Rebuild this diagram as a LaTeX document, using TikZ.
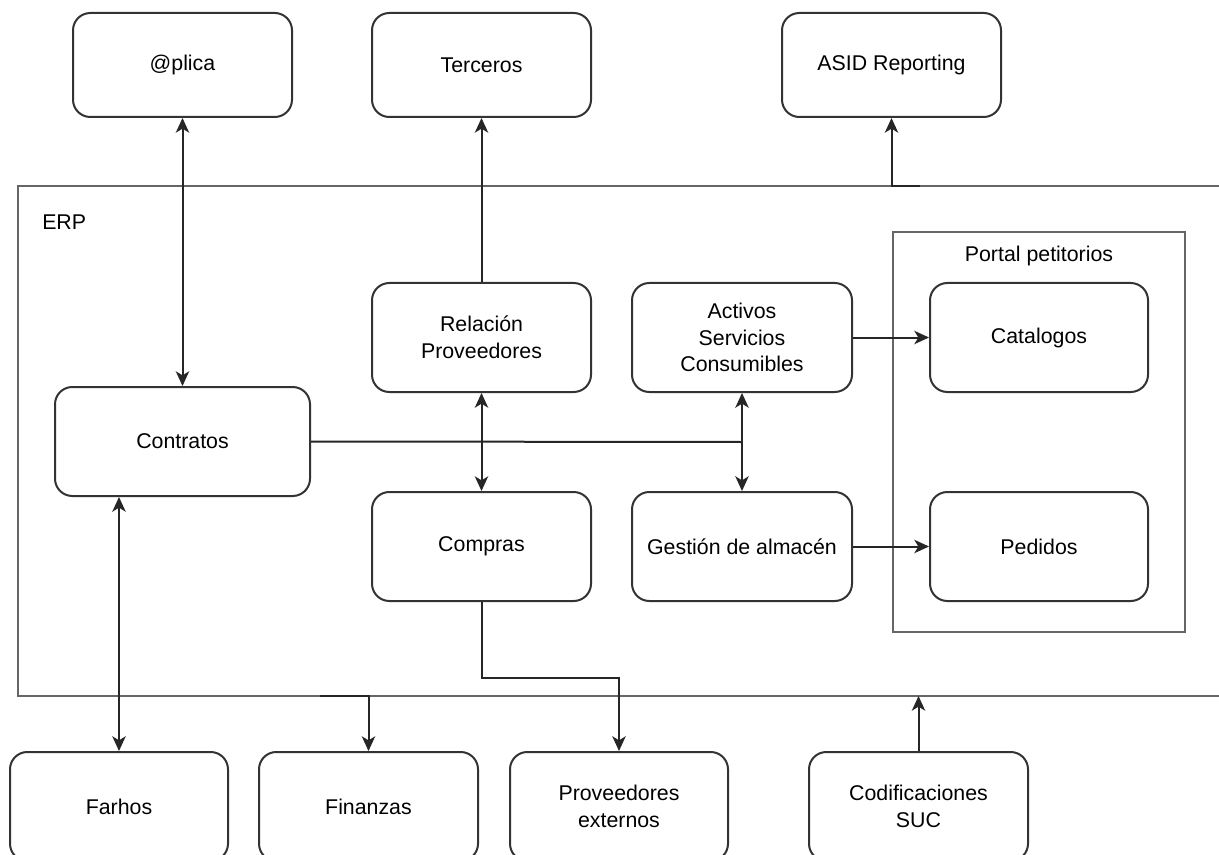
\documentclass[tikz,border=0pt]{standalone}
\usepackage{fontspec}
\setmainfont{Liberation Sans}
\usetikzlibrary{arrows.meta}
\begin{document}
\begin{tikzpicture}[x=0.75pt,y=-0.75pt,
  box/.style={draw=black!80,line width=1.5pt,rounded corners=13pt,fill=white,align=center,
    font=\fontsize{16}{20}\selectfont,inner sep=0pt},
  frame/.style={draw=black!60,line width=1.8pt},
  lbl/.style={font=\fontsize{16}{20}\selectfont,inner sep=0pt},
  conn/.style={draw=black!85,line width=1.5pt},
  tip/.style={-{Stealth[length=11pt,width=10pt,inset=3pt]}},
  tips/.style={{Stealth[length=11pt,width=10pt,inset=3pt]}-{Stealth[length=11pt,width=10pt,inset=3pt]}}]
\useasboundingbox (0,0) rectangle (1219,855);
\clip (0,0) rectangle (1219,855);
\fill[white] (0,0) rectangle (1219,855);
% frames
\draw[frame] (18,186) rectangle (1260,696);
\node[lbl,anchor=west] (erp) at (42,222) {ERP};
\draw[frame] (893,232) rectangle (1185,632);
\node[lbl] (portal) at (1039,256) {Portal petitorios};
% nodes
\node[box,minimum width=219*0.75pt,minimum height=104*0.75pt] (aplica) at (182.5,65) {@plica};
\node[box,minimum width=219*0.75pt,minimum height=104*0.75pt] (terceros) at (481.5,65) {Terceros};
\node[box,minimum width=219*0.75pt,minimum height=104*0.75pt] (asid) at (891.5,65) {ASID Reporting};
\node[box,minimum width=219*0.75pt,minimum height=109*0.75pt] (relacion) at (481.5,337.5) {Relación\\Proveedores};
\node[box,minimum width=220*0.75pt,minimum height=109*0.75pt] (activos) at (742,337.5) {Activos\\Servicios\\Consumibles};
\node[box,minimum width=218*0.75pt,minimum height=109*0.75pt] (catalogos) at (1039,337.5) {Catalogos};
\node[box,minimum width=255*0.75pt,minimum height=109*0.75pt] (contratos) at (182.5,441.5) {Contratos};
\node[box,minimum width=219*0.75pt,minimum height=109*0.75pt] (compras) at (481.5,546.5) {Compras};
\node[box,minimum width=220*0.75pt,minimum height=109*0.75pt] (gestion) at (742,546.5) {Gestión de almacén};
\node[box,minimum width=218*0.75pt,minimum height=109*0.75pt] (pedidos) at (1039,546.5) {Pedidos};
\node[box,minimum width=218*0.75pt,minimum height=109*0.75pt] (farhos) at (119,806.5) {Farhos};
\node[box,minimum width=219*0.75pt,minimum height=109*0.75pt] (finanzas) at (368.5,806.5) {Finanzas};
\node[box,minimum width=218*0.75pt,minimum height=109*0.75pt] (provext) at (619,806.5) {Proveedores\\externos};
\node[box,minimum width=219*0.75pt,minimum height=109*0.75pt] (codif) at (918.5,806.5) {Codificaciones\\SUC};
% helper coordinates
\coordinate (asidstub) at (920,186);
\coordinate (asidbend) at (891.5,186);
\coordinate (joint) at (742,442);
\coordinate (finstub) at (320,696);
\coordinate (finbend) at (368.5,696);
\coordinate (cmpA) at (481.5,678);
\coordinate (cmpB) at (619,678);
\coordinate (sucend) at (918.5,696);
% connectors
\draw[conn,tips] (aplica.south) -- (contratos.north);
\draw[conn,tip] (relacion.north) -- (terceros.south);
\draw[conn,tip] (asidstub) -- (asidbend) -- (asid.south);
\draw[conn,tips] (relacion.south) -- (compras.north);
\draw[conn,tips] (activos.south) -- (gestion.north);
\draw[conn] (contratos.east) -- (joint);
\draw[conn,tip] (activos.east) -- (catalogos.west);
\draw[conn,tip] (gestion.east) -- (pedidos.west);
\draw[conn,tips] (contratos.south -| farhos.north) -- (farhos.north);
\draw[conn,tip] (finstub) -- (finbend) -- (finanzas.north);
\draw[conn,tip] (compras.south) -- (cmpA) -- (cmpB) -- (provext.north);
\draw[conn,tip] (codif.north) -- (sucend);
\end{tikzpicture}
\end{document}
